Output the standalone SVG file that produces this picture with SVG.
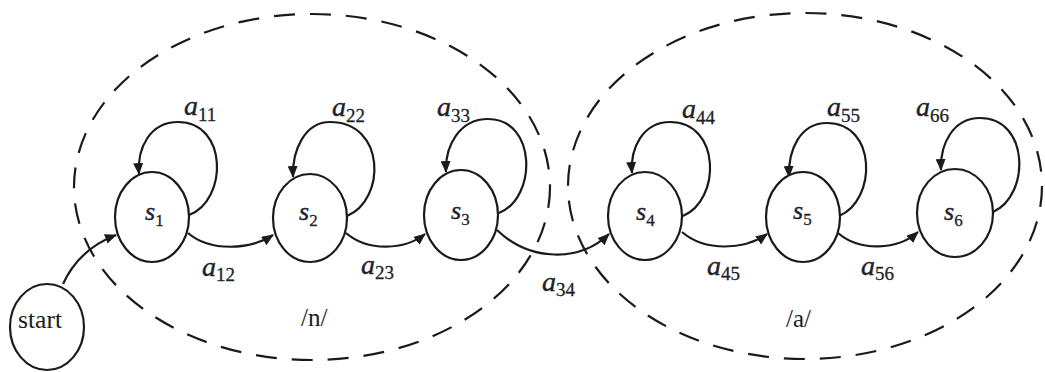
<svg xmlns="http://www.w3.org/2000/svg" width="1045" height="372" viewBox="0 0 1045 372">
  <style>
    .state { fill: #ffffff; stroke: #1a1a1a; stroke-width: 2.2; }
    .cluster { fill: none; stroke: #1a1a1a; stroke-width: 2.2; stroke-dasharray: 21 15; }
    .edge { fill: none; stroke: #1a1a1a; stroke-width: 2.2; marker-end: url(#arrow); }
    text { font-family: "Liberation Serif", "Times New Roman", serif; }
    .var { font-style: italic; fill: #1f1f2a; stroke: #1f1f2a; stroke-width: 0.4; }
    .sub { fill: #1f1f2a; stroke: #1f1f2a; stroke-width: 0.3; }
    .plain { fill: #1a1a1a; font-size: 25px; }
    .lab .var { font-size: 28px; }
    .lab .sub { font-size: 19px; }
    .st .var { font-size: 26px; }
    .st .sub { font-size: 17px; }
  </style>
  <defs>
    <marker id="arrow" markerUnits="userSpaceOnUse" viewBox="0 0 12 10" refX="11" refY="5" markerWidth="12" markerHeight="10" orient="auto">
      <path d="M0,0 L12,5 L0,10 z" fill="#1a1a1a"/>
    </marker>
  </defs>

  <rect width="1045" height="372" fill="#ffffff"/>

  <!-- phone groupings -->
  <g id="clusters">
    <ellipse class="cluster" cx="312" cy="187" rx="238" ry="173"/>
    <ellipse class="cluster" cx="805" cy="186" rx="237" ry="173"/>
    <text class="plain" x="301" y="326">/n/</text>
    <text class="plain" x="786" y="327">/a/</text>
  </g>

  <!-- transitions -->
  <g id="connectors">
    <path class="edge" d="M63,284 C75,258 95,243 116,235"/>
    <path class="edge" d="M188,233 C210,252 250,250 273,235"/>
    <path class="edge" d="M346,233 C368,252 405,250 425,234"/>
    <path class="edge" d="M497,230 C530,262 580,262 609,234"/>
    <path class="edge" d="M682,232 C705,252 745,250 767,234"/>
    <path class="edge" d="M838,233 C860,252 898,250 918,232"/>
    <path class="edge" d="M189,215 C228,200 228,122 178,122 C150,122 137,148 139,174"/>
    <path class="edge" d="M347,216 C386,200 386,122 330,122 C305,122 292,150 293,177"/>
    <path class="edge" d="M499,213 C537,198 537,119 488,119 C460,119 445,145 446,172"/>
    <path class="edge" d="M683,216 C721,200 721,122 670,122 C643,122 630,148 632,173"/>
    <path class="edge" d="M839,216 C877,200 877,123 827,123 C800,123 788,150 789,177"/>
    <path class="edge" d="M993,212 C1030,196 1030,118 980,118 C953,118 940,144 941,170"/>
  </g>

  <!-- transition probabilities -->
  <g id="edge-labels" class="lab">
    <text x="184" y="115"><tspan class="var">a</tspan><tspan class="sub" y="121">11</tspan></text>
    <text x="332" y="116"><tspan class="var">a</tspan><tspan class="sub" y="122">22</tspan></text>
    <text x="437" y="116"><tspan class="var">a</tspan><tspan class="sub" y="122">33</tspan></text>
    <text x="682" y="118"><tspan class="var">a</tspan><tspan class="sub" y="124">44</tspan></text>
    <text x="827" y="116"><tspan class="var">a</tspan><tspan class="sub" y="122">55</tspan></text>
    <text x="916" y="116"><tspan class="var">a</tspan><tspan class="sub" y="122">66</tspan></text>
    <text x="202" y="276"><tspan class="var">a</tspan><tspan class="sub" y="281">12</tspan></text>
    <text x="361" y="274"><tspan class="var">a</tspan><tspan class="sub" y="279">23</tspan></text>
    <text x="542" y="291"><tspan class="var">a</tspan><tspan class="sub" y="296">34</tspan></text>
    <text x="707" y="275"><tspan class="var">a</tspan><tspan class="sub" y="280">45</tspan></text>
    <text x="861" y="275"><tspan class="var">a</tspan><tspan class="sub" y="280">56</tspan></text>
  </g>

  <!-- states -->
  <g id="start">
    <ellipse class="state" cx="47" cy="327" rx="37" ry="43"/>
    <text class="plain" x="18" y="328" textLength="44" lengthAdjust="spacingAndGlyphs">start</text>
  </g>
  <g id="s1" class="st">
    <ellipse class="state" cx="152" cy="217" rx="37" ry="45"/>
    <text x="145" y="220"><tspan class="var">s</tspan><tspan class="sub" y="226">1</tspan></text>
  </g>
  <g id="s2" class="st">
    <ellipse class="state" cx="310" cy="218" rx="37" ry="44"/>
    <text x="299" y="220"><tspan class="var">s</tspan><tspan class="sub" y="226">2</tspan></text>
  </g>
  <g id="s3" class="st">
    <ellipse class="state" cx="461" cy="215" rx="37" ry="45"/>
    <text x="451" y="219"><tspan class="var">s</tspan><tspan class="sub" y="225">3</tspan></text>
  </g>
  <g id="s4" class="st">
    <ellipse class="state" cx="645" cy="216" rx="37" ry="44"/>
    <text x="636" y="220"><tspan class="var">s</tspan><tspan class="sub" y="226">4</tspan></text>
  </g>
  <g id="s5" class="st">
    <ellipse class="state" cx="803" cy="217" rx="37" ry="45"/>
    <text x="793" y="219"><tspan class="var">s</tspan><tspan class="sub" y="225">5</tspan></text>
  </g>
  <g id="s6" class="st">
    <ellipse class="state" cx="955" cy="213" rx="38" ry="44"/>
    <text x="944" y="220"><tspan class="var">s</tspan><tspan class="sub" y="226">6</tspan></text>
  </g>
</svg>
